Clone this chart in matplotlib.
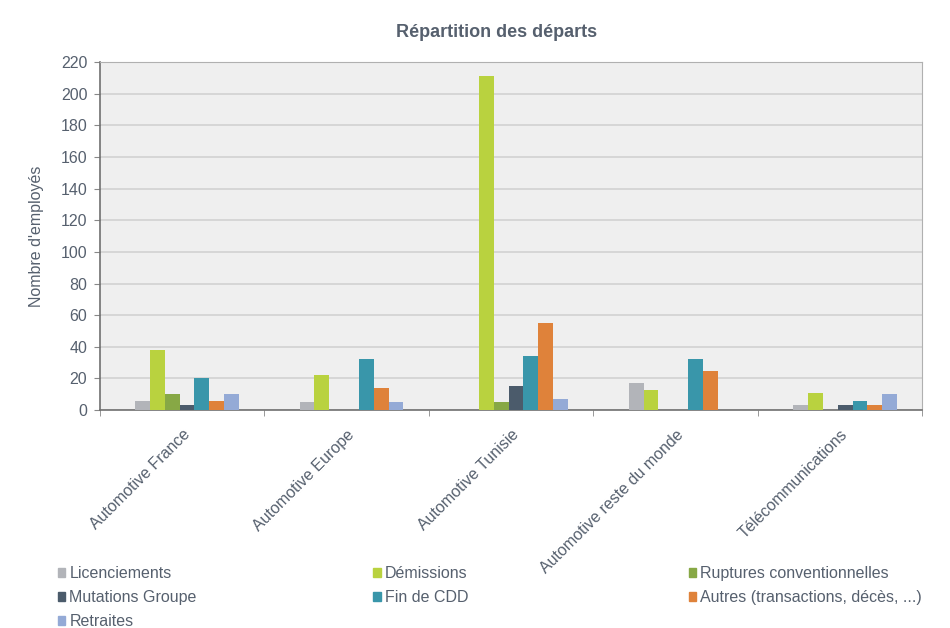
import numpy as np
from matplotlib import pyplot as plt
from matplotlib.patches import Patch
import matplotlib.transforms as mtransforms

plt.rcParams['font.family'] = ['Liberation Sans', 'DejaVu Sans']

categories = ['Automotive France', 'Automotive Europe', 'Automotive Tunisie',
              'Automotive reste du monde', 'Télécommunications']
series = ['Licenciements', 'Démissions', 'Ruptures conventionnelles',
          'Mutations Groupe', 'Fin de CDD', 'Autres (transactions, décès, ...)',
          'Retraites']
licenciements = [6, 5, 0, 17, 3]
demissions = [38, 22, 211, 13, 11]
ruptures = [10, 0, 5, 0, 0]
mutations = [3, 0, 15, 0, 3]
fin_cdd = [20, 32, 34, 32, 6]
autres = [6, 14, 55, 25, 3]
retraites = [10, 5, 7, 0, 10]
values = [licenciements, demissions, ruptures, mutations, fin_cdd, autres, retraites]
colors = ['#b2b4b9', '#b9d23f', '#87a845', '#4b5b6b', '#3996aa', '#df823a', '#94aad6']

text_col = '#56606e'

fig = plt.figure(figsize=(9.5, 6.28), dpi=100)
ax = fig.add_axes([0.105, 0.347, 0.866, 0.554])
ax.set_facecolor('#efefef')

x = np.arange(len(categories))
w = 0.09
for i, (vals, c) in enumerate(zip(values, colors)):
    ax.bar(x + (i - 3) * w + 0.03, vals, width=w, color=c, zorder=3)

ax.set_xlim(-0.5, len(categories) - 0.5)
ax.set_ylim(0, 220)
ax.set_yticks(range(0, 221, 20))
ax.yaxis.grid(True, color='#d2d2d2', linewidth=1.2, zorder=0)
ax.set_xticks(x)
ax.set_xticklabels(categories, rotation=45, ha='right', va='top',
                   rotation_mode='anchor', fontsize=11.5, color=text_col)
offset = mtransforms.ScaledTranslation(6 / 100, 0, fig.dpi_scale_trans)
for lab in ax.get_xticklabels():
    lab.set_transform(lab.get_transform() + offset)
ax.set_xticks(np.arange(-0.5, len(categories)), minor=True)
ax.tick_params(axis='x', which='major', length=0, pad=12)
ax.tick_params(axis='x', which='minor', length=4, color='#888888')
ax.tick_params(axis='y', labelsize=11.5, labelcolor=text_col, length=4,
               color='#888888', pad=5)
for side in ['top', 'right']:
    ax.spines[side].set_color('#b0b0b0')
for side in ['left', 'bottom']:
    ax.spines[side].set_color('#707070')
    ax.spines[side].set_linewidth(1.2)

ax.set_ylabel("Nombre d'employés", fontsize=11.5, color=text_col, labelpad=12)
fig.suptitle('Répartition des départs', x=0.523, y=0.962, fontsize=13,
             fontweight='bold', color=text_col)

columns = [[0, 3, 6], [1, 4], [2, 5]]
col_x = [0.046, 0.378, 0.710]
for idx, cx in zip(columns, col_x):
    handles = [Patch(color=colors[i]) for i in idx]
    labels = [series[i] for i in idx]
    fig.legend(handles, labels, loc='upper left', bbox_to_anchor=(cx, 0.121),
               frameon=False, fontsize=11.5, handlelength=0.45,
               handleheight=0.45, handletextpad=0.25, labelspacing=0.55,
               labelcolor=text_col)

plt.savefig('out.png')
